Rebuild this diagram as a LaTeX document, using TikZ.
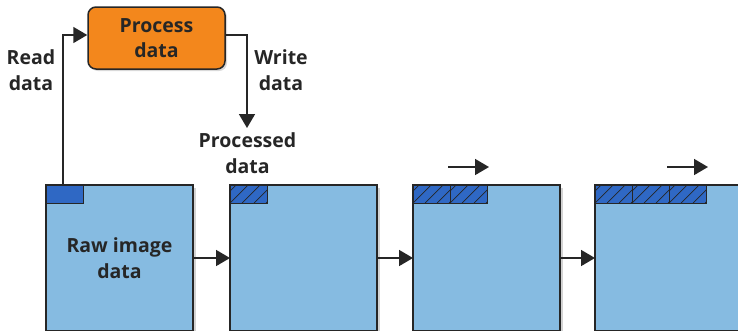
\documentclass[tikz,border=0pt]{standalone}
\usepackage{fontspec}
\setmainfont{Open Sans}
\usetikzlibrary{arrows.meta,shadows}
\definecolor{lightblu}{HTML}{86BBE1}
\definecolor{darkblu}{HTML}{2F68C4}
\definecolor{orng}{HTML}{F3871C}
\definecolor{ink}{HTML}{262626}
\begin{document}
\begin{tikzpicture}[x=1pt,y=-1pt,
  frame/.style={draw=ink, line width=2pt, fill=lightblu, minimum width=147pt, minimum height=146pt,
    inner sep=0pt, outer sep=0pt, drop shadow={shadow xshift=2.5pt, shadow yshift=-2.5pt, opacity=0.35}},
  blk/.style={draw=ink, line width=0.7pt, fill=darkblu, minimum width=37pt, minimum height=18pt,
    inner sep=0pt, outer sep=0pt, anchor=north west},
  hatch/.style={blk, path picture={\foreach \i in {-24,-12,...,36}
      \draw[ink,line width=0.7pt] ([xshift=\i pt]path picture bounding box.south west) -- ++(18pt,18pt);}},
  proc/.style={draw=ink, line width=1.5pt, fill=orng, rounded corners=8pt, minimum width=137pt,
    minimum height=62pt, align=center, font=\fontsize{19.5}{25}\selectfont\bfseries, text=ink,
    drop shadow={shadow xshift=2pt, shadow yshift=-2pt, opacity=0.3}},
  lbl/.style={align=center, font=\fontsize{19.5}{26}\selectfont\bfseries, text=ink, inner sep=0pt},
  arr/.style={draw=ink, line width=1.7pt, -{Triangle[length=14pt,width=16pt]}},
]
\useasboundingbox (0,0) rectangle (738,330);
\node[frame, lbl] (b1) at (119.5,258) {Raw image\\data};
\node[frame] (b2) at (303.5,258) {};
\node[frame] (b3) at (486.5,258) {};
\node[frame] (b4) at (668.5,258) {};
% blocks
\node[blk] (s1) at (b1.north west) {};
\node[hatch] (h21) at (b2.north west) {};
\node[hatch] (h31) at (b3.north west) {};
\node[hatch] (h32) at (h31.north east) {};
\node[hatch] (h41) at (b4.north west) {};
\node[hatch] (h42) at (h41.north east) {};
\node[hatch] (h43) at (h42.north east) {};
% box to box arrows
\draw[arr] (b1.east) -- (b2.west);
\draw[arr] (b2.east) -- (b3.west);
\draw[arr] (b3.east) -- (b4.west);
% small direction arrows
\coordinate (m3a) at (448,167); \coordinate (m3b) at (489,167);
\coordinate (m4a) at (667,167); \coordinate (m4b) at (708,167);
\draw[arr] (m3a) -- (m3b);
\draw[arr] (m4a) -- (m4b);
% process
\node[proc] (proc) at (156.5,38) {Process\\data};
\coordinate (rdstart) at (63,185);
\draw[arr] (rdstart) |- ([yshift=3pt]proc.west);
\coordinate (wd) at (247,128);
\draw[arr] ([yshift=3pt]proc.east) -| (wd);
% labels
\node[lbl] (readl) at (31,70) {Read\\data};
\node[lbl] (writel) at (281,70) {Write\\data};
\node[lbl] (procl) at (247.5,153) {Processed\\data};
\end{tikzpicture}
\end{document}
